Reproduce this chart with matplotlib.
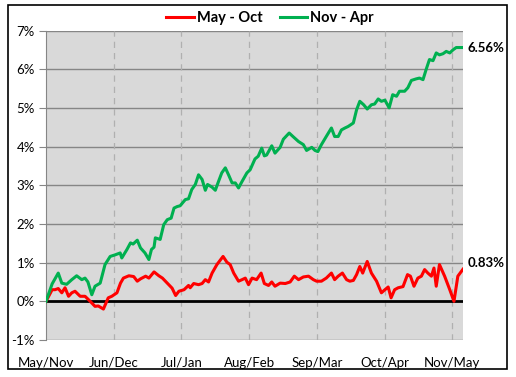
import matplotlib
matplotlib.use("Agg")
import matplotlib.pyplot as plt
from matplotlib.patches import Rectangle
from matplotlib.ticker import FuncFormatter, FixedLocator

plt.rcParams['font.family'] = ['Lato', 'DejaVu Sans']

# trading day since start of the six month window, cumulative return in %
green_day = [0, 1.9, 3.8, 4.9, 6.4, 8.0, 9.5, 11.1, 12.1, 13.0, 14.2, 15.2, 16.8, 18.3, 19.9,
             21.4, 23.0, 23.5, 25.1, 26.2, 27.0, 28.3, 29.3, 30.7, 31.9, 32.7, 33.5, 33.9, 35.4,
             36.5, 37.6, 38.8, 39.7, 40.7, 41.6, 43.2, 44.2, 45.2, 46.3, 47.3, 48.4, 49.4, 50.1,
             51.5, 52.5, 53.5, 54.5, 55.6, 56.6, 57.7, 58.7, 59.7, 60.8, 62.3, 63.3, 64.8, 65.8,
             66.9, 67.7, 68.4, 70.0, 71.0, 72.6, 73.6, 75.4, 76.7, 78.3, 79.8, 80.8, 82.4, 83.4,
             84.3, 85.4, 86.9, 88.5, 89.5, 90.6, 91.6, 92.7, 93.7, 95.3, 96.3, 97.3, 98.5, 99.6,
             100.9, 101.9, 103.0, 104.0, 105.1, 106.4, 107.5, 108.7, 109.6, 111.2, 112.2, 113.3,
             114.8, 115.8, 116.9, 117.9, 118.9, 120.0, 121.0, 122.0, 123.1, 124.1, 125.2, 126.2,
             127.2, 129.3]
green_ret = [0.0, 0.45, 0.73, 0.47, 0.44, 0.56, 0.66, 0.56, 0.60, 0.50, 0.17, 0.39, 0.47, 0.95, 1.16,
             1.20, 1.25, 1.12, 1.34, 1.51, 1.48, 1.58, 1.38, 1.25, 1.08, 1.34, 1.40, 1.64, 1.60,
             1.98, 2.11, 2.15, 2.41, 2.45, 2.47, 2.63, 2.65, 2.89, 3.02, 3.27, 3.15, 2.87, 3.02,
             2.95, 2.87, 3.10, 3.32, 3.45, 3.27, 3.06, 3.06, 2.93, 3.10, 3.32, 3.40, 3.68, 3.75,
             3.96, 3.76, 3.78, 4.02, 3.83, 3.98, 4.19, 4.35, 4.25, 4.13, 4.05, 3.90, 3.98, 3.90,
             3.87, 4.05, 4.26, 4.48, 4.26, 4.26, 4.43, 4.48, 4.52, 4.61, 4.95, 5.17, 5.08, 4.97,
             5.08, 5.10, 5.23, 5.17, 5.20, 5.00, 5.34, 5.30, 5.43, 5.43, 5.52, 5.71,
             5.75, 5.77, 5.73, 6.00, 6.25, 6.22, 6.42, 6.37, 6.40, 6.46, 6.42, 6.50,
             6.56, 6.56]

red_day = [0, 1.9, 2.8, 3.8, 4.9, 5.9, 7.0, 8.0, 9.0, 10.6, 12.1, 13.7, 15.2, 16.2, 17.8, 19.3,
           20.4, 22.0, 23.1, 24.0, 25.7, 27.2, 28.3, 29.3, 30.9, 31.9, 33.5, 35.0, 36.1, 37.6,
           39.1, 40.2, 41.2, 42.8, 44.2, 44.7, 45.8, 47.3, 48.4, 49.4, 50.4, 51.5, 53.0, 54.9,
           56.1, 57.1, 58.2, 59.7, 60.8, 61.8, 62.8, 63.9, 65.3, 66.7, 67.7, 69.0, 70.0, 71.0,
           72.6, 74.2, 75.7, 77.0, 78.3, 79.8, 81.4, 82.9, 83.9, 85.4, 86.9, 88.5, 89.5, 90.6,
           91.9, 93.2, 94.2, 95.3, 96.3, 97.3, 98.2, 99.6, 100.9, 102.5, 104.0, 105.1, 106.1,
           107.0, 108.1, 109.2, 110.7, 112.1, 113.0, 114.1, 115.3, 116.4, 117.4, 118.4, 119.5,
           120.3, 121.0, 122.0, 123.6, 125.2, 126.5, 127.7, 129.3]
red_ret = [0.0, 0.30, 0.30, 0.33, 0.22, 0.35, 0.13, 0.22, 0.26, 0.13, 0.13, 0.0, -0.13, -0.12, -0.20, 0.09,
           0.13, 0.22, 0.47, 0.60, 0.66, 0.64, 0.52, 0.58, 0.65, 0.60, 0.76, 0.66, 0.60, 0.47,
           0.34, 0.15, 0.26, 0.30, 0.41, 0.35, 0.46, 0.43, 0.46, 0.56, 0.50, 0.73, 0.95, 1.16,
           1.01, 0.95, 0.73, 0.52, 0.56, 0.60, 0.43, 0.60, 0.56, 0.73, 0.46, 0.41, 0.50, 0.39,
           0.47, 0.46, 0.50, 0.65, 0.56, 0.63, 0.65, 0.56, 0.52, 0.52, 0.60, 0.73, 0.56, 0.65,
           0.73, 0.56, 0.52, 0.54, 0.69, 0.90, 0.73, 1.03, 0.73, 0.52, 0.22, 0.30, 0.37,
           0.09, 0.30, 0.35, 0.38, 0.69, 0.65, 0.39, 0.60, 0.65, 0.82, 0.73, 0.65,
           0.86, 0.39, 0.95, 0.65, 0.30, 0.0, 0.65, 0.83]

month_days = [0, 21, 42, 63, 84, 105, 126]
month_labels = ["May/Nov", "Jun/Dec", "Jul/Jan", "Aug/Feb", "Sep/Mar", "Oct/Apr", "Nov/May"]
y_ticks = [-1, 0, 1, 2, 3, 4, 5, 6, 7]
end_labels = {"red": "0.83%", "green": "6.56%"}

RED = "#FF0000"
GREEN = "#00B050"

fig = plt.figure(figsize=(5.16, 3.77), dpi=100)
fig.patch.set_facecolor("white")
fig.patches.append(Rectangle((8 / 516, 8 / 377), 499 / 516, 364 / 377, transform=fig.transFigure,
                             fill=False, edgecolor="black", linewidth=1.2))

ax = fig.add_axes([46 / 516, 37 / 377, 417 / 516, 309.5 / 377])
ax.set_facecolor("#D9D9D9")

for v in y_ticks:
    if v != 0:
        ax.axhline(v, color="#868686", linewidth=1.0, zorder=1)
for d in month_days[1:]:
    ax.axvline(d, color="#B0B0B0", linewidth=0.9, linestyle=(0, (5, 4)), zorder=1)
ax.axhline(0, color="black", linewidth=2.0, zorder=2)

ax.plot(red_day, red_ret, color=RED, linewidth=2.2, label="May - Oct", zorder=3)
ax.plot(green_day, green_ret, color=GREEN, linewidth=2.2, label="Nov - Apr", zorder=3)

ax.set_xlim(0, 129.3)
ax.set_ylim(-1, 7)
ax.yaxis.set_major_locator(FixedLocator(y_ticks))
ax.yaxis.set_major_formatter(FuncFormatter(lambda v, p: "%d%%" % v))
ax.set_xticks(month_days)
ax.set_xticklabels(month_labels)

for s in ["top", "right", "bottom"]:
    ax.spines[s].set_visible(False)
ax.spines["left"].set_color("#868686")
ax.tick_params(axis="y", length=5, color="#868686", labelsize=9.5, pad=3)
ax.tick_params(axis="x", length=0, labelsize=9.5, pad=12)

ax.text(red_day[-1] + 1.5, red_ret[-1], end_labels["red"], fontsize=9.5, fontweight="bold",
        va="bottom", ha="left", clip_on=False)
ax.text(green_day[-1] + 1.5, green_ret[-1], end_labels["green"], fontsize=9.5, fontweight="bold",
        va="center", ha="left", clip_on=False)

fig.legend(loc="center", bbox_to_anchor=(270 / 516, 1 - 18 / 377), ncol=2, frameon=False,
           prop={"size": 10.5, "weight": "bold"}, handlelength=1.9, handletextpad=0.2,
           columnspacing=1.2)

fig.savefig("out.png", dpi=100)
